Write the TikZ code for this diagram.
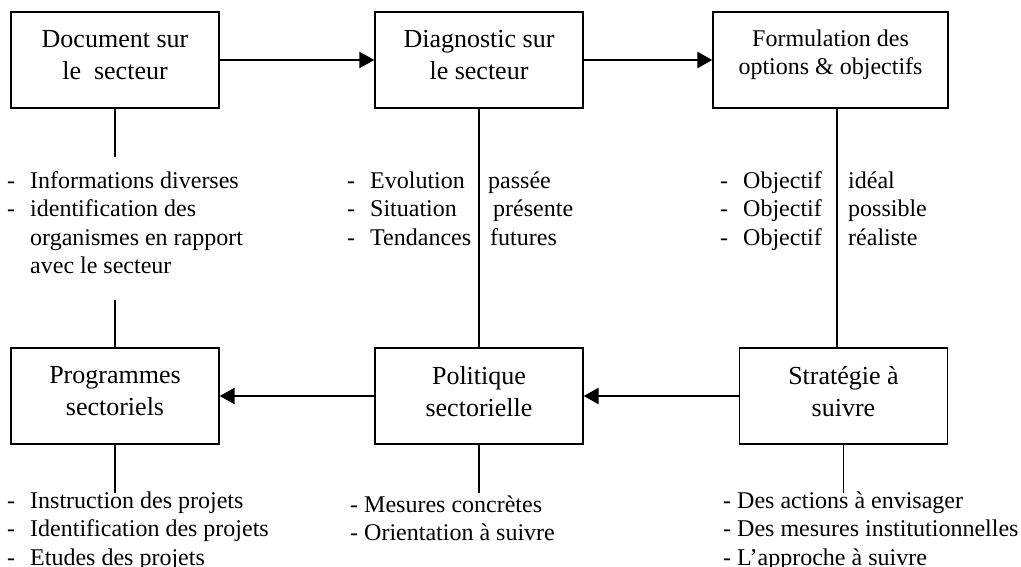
\documentclass[tikz,border=0pt]{standalone}
\usepackage{fontspec}
\setmainfont{Liberation Serif}
\usetikzlibrary{arrows.meta}

\newcommand\tiret{\makebox[23pt][l]{-}}

\begin{document}
\begin{tikzpicture}[x=1pt,y=-1pt,
  box/.style={draw, line width=1.3pt, minimum width=208pt, minimum height=96pt,
    inner sep=0pt, align=center, font=\fontsize{26}{32}\selectfont},
  flow/.style={line width=2.6pt, -{Triangle[length=15pt,width=16pt]}},
  stub/.style={line width=1.1pt},
  list/.style={anchor=base west, inner sep=0pt, font=\fontsize{24}{28.5}\selectfont}]
\useasboundingbox (0,0) rectangle (1021,566);

% top row
\node [box] (doc) at (115,60) {Document sur\\le~~secteur\\[-22pt]};
\node [box] (diag) at (479,60) {Diagnostic sur\\le secteur\\[-22pt]};
\node [box, minimum width=235pt, font=\fontsize{24}{28}\selectfont] (form) at (830.5,60)
  {Formulation des\\options \& objectifs\\[-13pt]};

% bottom row
\node [box] (prog) at (115,396) {Programmes\\sectoriels\\[-22pt]};
\node [box] (pol) at (479,396) {Politique\\sectorielle\\[-22pt]};
\node [box] (strat) at (843.5,396) {Stratégie à\\suivre\\[-22pt]};

\draw [flow] (doc) -- (diag);
\draw [flow] (diag) -- (form);
\draw [flow] (strat) -- (pol);
\draw [flow] (pol) -- (prog);

% lists under the top row
\node [list] (infos) at (7,188) {\begin{tabular}[t]{@{}l@{}}
  \tiret Informations diverses\\
  \tiret identification des\\
  \hspace{23pt}organismes en rapport\\
  \hspace{23pt}avec le secteur\end{tabular}};
\node [list] (evol) at (347,188) {\begin{tabular}[t]{@{}l@{}}
  \tiret Evolution\\ \tiret Situation\\ \tiret Tendances\end{tabular}};
\node [list] (temps) at (488,188) {\begin{tabular}[t]{@{}l@{}}
  passée\\ \hspace{5pt}présente\\ \hspace{2pt}futures\end{tabular}};
\node [list] (obj) at (720,188) {\begin{tabular}[t]{@{}l@{}}
  \tiret Objectif\\ \tiret Objectif\\ \tiret Objectif\end{tabular}};
\node [list] (niv) at (848,188) {\begin{tabular}[t]{@{}l@{}}
  idéal\\ possible\\ réaliste\end{tabular}};

% lists under the bottom row
\node [list] (projets) at (7,508) {\begin{tabular}[t]{@{}l@{}}
  \tiret Instruction des projets\\
  \tiret Identification des projets\\
  \tiret Etudes des projets\end{tabular}};
\node [list] (mesures) at (350,512) {\begin{tabular}[t]{@{}l@{}}
  - Mesures concrètes\\ - Orientation à suivre\end{tabular}};
\node [list] (actions) at (723,508) {\begin{tabular}[t]{@{}l@{}}
  - Des actions à envisager\\
  - Des mesures institutionnelles\\
  - L’approche à suivre\end{tabular}};

% stubs
\coordinate (docend) at (115,157);
\coordinate (progend) at (115,300);
\coordinate (objline) at (837,0);
\draw [stub] (doc.south) -- (docend);
\draw [stub] (progend) -- (prog.north);
\draw [stub] (diag) -- (pol);
\draw [stub] (form.south -| objline) -- (strat.north -| objline);
\foreach \b in {prog,pol,strat}
  \draw [stub] (\b.south) -- ++(0,48);
\end{tikzpicture}
\end{document}
